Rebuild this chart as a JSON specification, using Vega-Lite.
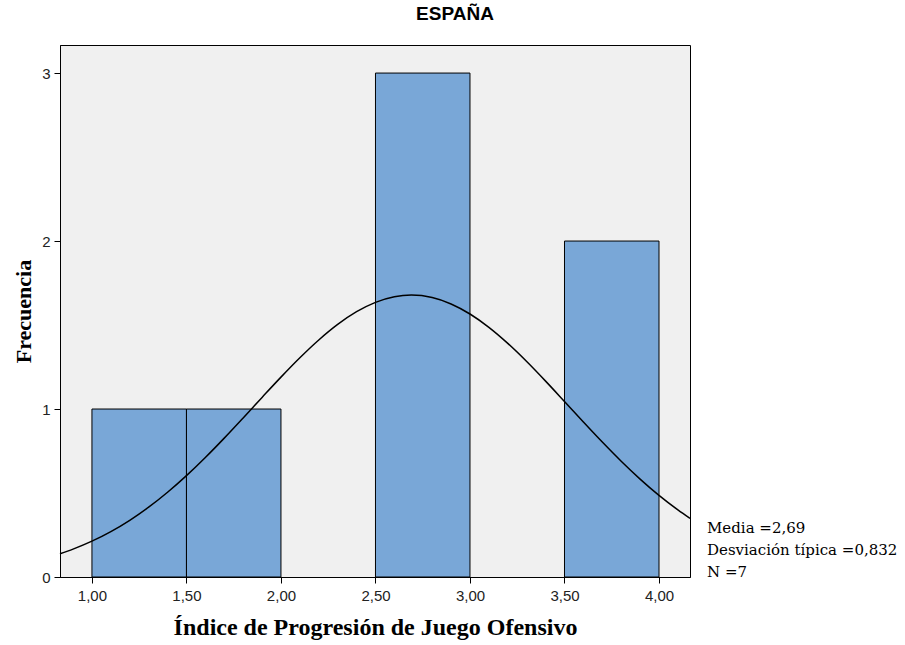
{
  "$schema": "https://vega.github.io/schema/vega-lite/v6.json",
  "width": 630,
  "height": 532,
  "autosize": {"type": "none"},
  "padding": {"left": 60, "top": 45, "right": 215, "bottom": 68},
  "background": "#ffffff",
  "view": {"fill": "#f0f0f0", "stroke": "#000000", "strokeWidth": 1},
  "title": {
    "text": "ESPAÑA",
    "font": "Liberation Sans",
    "fontSize": 19,
    "fontWeight": "bold",
    "color": "#000000",
    "anchor": "middle",
    "dx": 80,
    "offset": 21
  },
  "config": {
    "view": {"fill": "#f0f0f0", "stroke": "#000000", "strokeWidth": 1},
    "axis": {
      "grid": false,
      "domainColor": "#000000",
      "tickColor": "#000000",
      "labelColor": "#222222",
      "labelFont": "Liberation Sans",
      "labelFontSize": 15,
      "titleFont": "Liberation Serif",
      "titleFontWeight": "bold",
      "titleColor": "#000000",
      "titleFontSize": 24
    }
  },
  "layer": [
    {
      "data": {
        "values": [
          {"desde": 1.0, "hasta": 1.5, "frecuencia": 1},
          {"desde": 1.5, "hasta": 2.0, "frecuencia": 1},
          {"desde": 2.5, "hasta": 3.0, "frecuencia": 3},
          {"desde": 3.5, "hasta": 4.0, "frecuencia": 2}
        ]
      },
      "mark": {"type": "bar", "fill": "#79a7d7", "stroke": "#000000", "strokeWidth": 1},
      "encoding": {
        "x": {
          "field": "desde",
          "type": "quantitative",
          "scale": {"domain": [0.831, 4.164], "nice": false, "zero": false},
          "axis": {
            "title": "Índice de Progresión de Juego Ofensivo",
            "values": [1, 1.5, 2, 2.5, 3, 3.5, 4],
            "labelExpr": "replace(format(datum.value, '.2f'), '.', ',')",
            "tickSize": 6,
            "labelPadding": 5,
            "titlePadding": 12
          }
        },
        "x2": {"field": "hasta"},
        "y": {
          "field": "frecuencia",
          "type": "quantitative",
          "scale": {"domain": [0, 3.167], "nice": false},
          "axis": {
            "title": "Frecuencia",
            "titleFontSize": 22,
            "values": [0, 1, 2, 3],
            "format": "d",
            "tickSize": 6,
            "labelPadding": 4,
            "titlePadding": 6
          }
        },
        "y2": {"datum": 0}
      }
    },
    {
      "data": {
        "values": [
          {"x": 0.831, "y": 0.1379},
          {"x": 0.9, "y": 0.1659},
          {"x": 1.0, "y": 0.2133},
          {"x": 1.1, "y": 0.2703},
          {"x": 1.2, "y": 0.3376},
          {"x": 1.3, "y": 0.4156},
          {"x": 1.4, "y": 0.5044},
          {"x": 1.5, "y": 0.6034},
          {"x": 1.6, "y": 0.7114},
          {"x": 1.7, "y": 0.8267},
          {"x": 1.8, "y": 0.947},
          {"x": 1.9, "y": 1.0692},
          {"x": 2.0, "y": 1.1898},
          {"x": 2.1, "y": 1.305},
          {"x": 2.2, "y": 1.4109},
          {"x": 2.3, "y": 1.5035},
          {"x": 2.4, "y": 1.5792},
          {"x": 2.5, "y": 1.6349},
          {"x": 2.6, "y": 1.6683},
          {"x": 2.69, "y": 1.6781},
          {"x": 2.8, "y": 1.6635},
          {"x": 2.9, "y": 1.6255},
          {"x": 3.0, "y": 1.5656},
          {"x": 3.1, "y": 1.4862},
          {"x": 3.2, "y": 1.3907},
          {"x": 3.3, "y": 1.2826},
          {"x": 3.4, "y": 1.166},
          {"x": 3.5, "y": 1.0447},
          {"x": 3.6, "y": 0.9227},
          {"x": 3.7, "y": 0.8033},
          {"x": 3.8, "y": 0.6892},
          {"x": 3.9, "y": 0.5829},
          {"x": 4.0, "y": 0.4858},
          {"x": 4.1, "y": 0.3992},
          {"x": 4.164, "y": 0.3486}
        ]
      },
      "mark": {"type": "line", "color": "#000000", "strokeWidth": 1.5, "interpolate": "monotone"},
      "encoding": {
        "x": {"field": "x", "type": "quantitative"},
        "y": {"field": "y", "type": "quantitative"}
      }
    },
    {
      "data": {
        "values": [
          {"estadistico": "Media =2,69"},
          {"estadistico": "Desviación típica =0,832"},
          {"estadistico": "N =7"}
        ]
      },
      "mark": {"type": "point", "opacity": 0},
      "encoding": {
        "color": {
          "field": "estadistico",
          "type": "nominal",
          "sort": ["Media =2,69", "Desviación típica =0,832", "N =7"],
          "scale": {"range": ["#000000", "#000000", "#000000"]},
          "legend": {
            "title": null,
            "orient": "none",
            "legendX": 632,
            "legendY": 475,
            "symbolSize": 0,
            "symbolOpacity": 0,
            "symbolStrokeWidth": 0,
            "labelOffset": 0,
            "labelFont": "DejaVu Serif",
            "labelFontSize": 15,
            "labelColor": "#000000",
            "labelLimit": 300,
            "rowPadding": 6
          }
        }
      }
    }
  ]
}
